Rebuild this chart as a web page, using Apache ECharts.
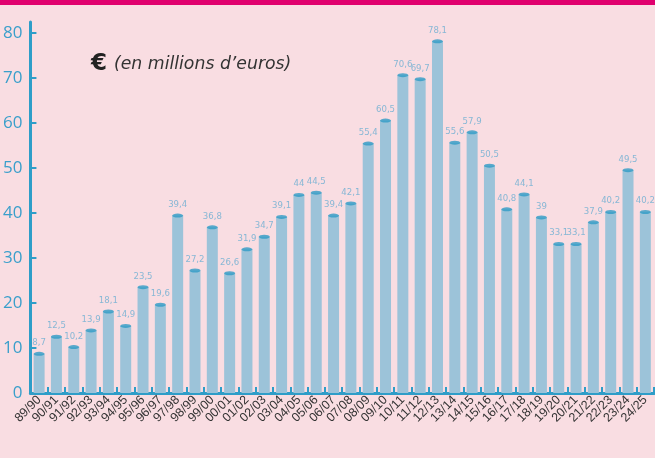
<!DOCTYPE html>
<html>
<head>
<meta charset="utf-8">
<script src="https://cdn.jsdelivr.net/npm/echarts@6/dist/echarts.min.js"></script>
<style>
html,body{margin:0;padding:0;background:#f9dde2;}
#chart{width:655px;height:458px;}
</style>
</head>
<body>
<div id="chart"></div>
<script>
const categories = ['89/90','90/91','91/92','92/93','93/94','94/95','95/96','96/97','97/98','98/99','99/00','00/01','01/02','02/03','03/04','04/05','05/06','06/07','07/08','08/09','09/10','10/11','11/12','12/13','13/14','14/15','15/16','16/17','17/18','18/19','19/20','20/21','21/22','22/23','23/24','24/25'];
const values = [8.7,12.5,10.2,13.9,18.1,14.9,23.5,19.6,39.4,27.2,36.8,26.6,31.9,34.7,39.1,44,44.5,39.4,42.1,55.4,60.5,70.6,69.7,78.1,55.6,57.9,50.5,40.8,44.1,39,33.1,33.1,37.9,40.2,49.5,40.2];
const yTicks = [0,10,20,30,40,50,60,70,80];
const titleEuro = '€';
const titleText = '(en millions d\u2019euros)';

const chart = echarts.init(document.getElementById('chart'), null, {renderer:'canvas'});
const axisBlue = '#2e9dc8';
chart.setOption({
  backgroundColor:'#f9dde2',
  animation:false,
  grid:{left:29, right:1, top:22, bottom:65, containLabel:false},
  graphic:[
    {type:'rect', left:0, top:0, shape:{width:655, height:5}, style:{fill:'#e0006e'}},
    {type:'text', left:91, top:53, style:{text:titleEuro, font:'bold 23px "DejaVu Sans", sans-serif', fill:'#222'}},
    {type:'text', left:114, top:56, style:{text:titleText, font:'italic 17.3px "DejaVu Sans", sans-serif', fill:'#333'}}
  ],
  xAxis:{
    type:'category',
    data:categories,
    boundaryGap:true,
    axisLine:{show:true, lineStyle:{color:axisBlue, width:3}},
    axisTick:{show:true, inside:true, length:6, lineStyle:{color:axisBlue, width:2}, alignWithLabel:false},
    axisLabel:{interval:0, rotate:45, color:'#333', fontSize:12.5, margin:5, fontFamily:'"Liberation Sans", Arial, sans-serif'},
    splitLine:{show:false}
  },
  yAxis:{
    type:'value',
    min:0, max:82.4,
    axisLine:{show:true, lineStyle:{color:axisBlue, width:3}},
    axisTick:{show:true, inside:true, length:6, lineStyle:{color:axisBlue, width:2}, customValues:yTicks},
    axisLabel:{color:'#3a9fcb', fontSize:17, margin:8, fontFamily:'"Open Sans", sans-serif', customValues:yTicks},
    splitLine:{show:false}
  },
  series:[
    {
      type:'bar',
      data:values,
      barWidth:11,
      itemStyle:{color:'#9cc3d9'},
      z:2
    },
    {
      type:'scatter',
      data:values,
      symbol:'circle',
      symbolSize:[11,4],
      itemStyle:{color:'#2f9bc5'},
      label:{
        show:true, position:'top', distance:4,
        color:'#6aaed2', fontSize:9.5,
        fontFamily:'"DejaVu Sans Condensed", "Liberation Sans Narrow", "Arial Narrow", sans-serif',
        formatter:function(p){return String(p.value).replace('.', ',');}
      },
      z:3
    }
  ]
});
</script>
</body>
</html>
